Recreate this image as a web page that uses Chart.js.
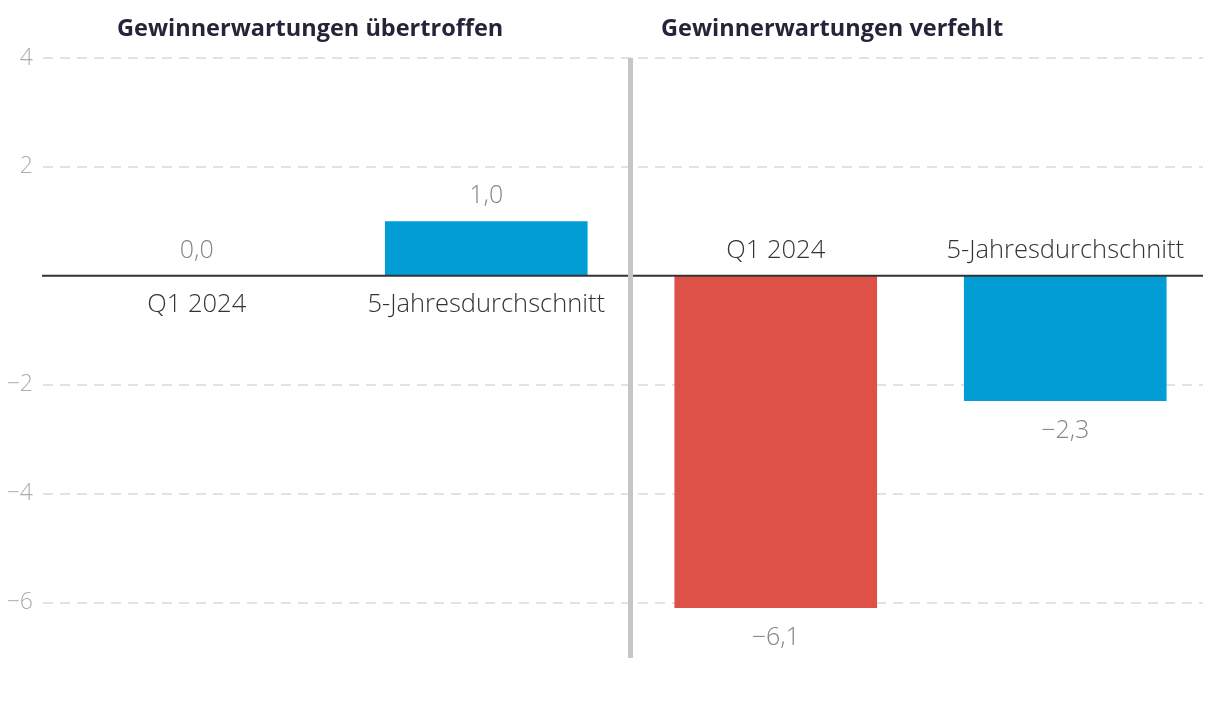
<!DOCTYPE html>
<html>
<head>
<meta charset="utf-8">
<script src="https://cdn.jsdelivr.net/npm/chart.js@4.4.1/dist/chart.umd.min.js"></script>
<style>
  html, body { margin: 0; padding: 0; background: #fff; }
  #wrap { width: 1220px; height: 714px; }
</style>
</head>
<body>
<div id="wrap"><canvas id="myChart" width="1220" height="714"></canvas></div>
<script>
// data
const categories = ['Q1 2024', '5-Jahresdurchschnitt', 'Q1 2024', '5-Jahresdurchschnitt']
const values = [0.0, 1.0, -6.1, -2.3]
const barColors = ['#DE5147', '#019DD4', '#DE5147', '#019DD4']
const groupTitles = ['Gewinnerwartungen übertroffen', 'Gewinnerwartungen verfehlt']
const yTicks = [4, 2, -2, -4, -6]

const FONT = '"Open Sans", "Noto Sans", sans-serif'

function fmt(v) {
  let s = Math.abs(v).toFixed(1).replace('.', ',')
  return v < 0 ? '\u2212' + s : s
}

// grid, zero line, separator, titles, labels
const decorPlugin = {
  id: 'decor',
  beforeDatasetsDraw(chart) {
    const ctx = chart.ctx
    const y = chart.scales.y
    const area = chart.chartArea
    ctx.save()
    ctx.strokeStyle = '#e2e2e2'
    ctx.lineWidth = 2
    ctx.setLineDash([10, 7])
    yTicks.forEach(t => {
      const py = Math.round(y.getPixelForValue(t))
      ctx.beginPath()
      ctx.moveTo(43, py)
      ctx.lineTo(area.right - 7, py)
      ctx.stroke()
    })
    ctx.restore()
  },
  afterDatasetsDraw(chart) {
    const ctx = chart.ctx
    const x = chart.scales.x
    const y = chart.scales.y
    const area = chart.chartArea
    const meta = chart.getDatasetMeta(0)
    const y0 = y.getPixelForValue(0)

    ctx.save()
    // zero line
    ctx.strokeStyle = '#333333'
    ctx.lineWidth = 2
    ctx.beginPath()
    ctx.moveTo(42, y0)
    ctx.lineTo(area.right - 7, y0)
    ctx.stroke()

    // separator
    const sep = (x.getPixelForValue(1) + x.getPixelForValue(2)) / 2
    ctx.fillStyle = '#c6c6c6'
    ctx.fillRect(sep - 3, area.top, 5, area.bottom - area.top + 1)

    // titles
    ctx.fillStyle = '#25253a'
    ctx.font = 'bold 23.5px ' + FONT
    ctx.textBaseline = 'middle'
    ctx.textAlign = 'left'
    ctx.fillText(groupTitles[0], area.left + 65, 29)
    ctx.fillText(groupTitles[1], sep + 30, 29)

    // bar labels
    ctx.textAlign = 'center'
    meta.data.forEach((bar, i) => {
      const v = values[i]
      const cx = bar.x
      ctx.font = '300 25px ' + FONT
      ctx.fillStyle = '#858585'
      if (v >= 0) {
        ctx.fillText(fmt(v), cx, bar.y - 25)
        ctx.font = '300 25.5px ' + FONT
        ctx.fillStyle = '#333333'
        ctx.fillText(categories[i], cx, y0 + 29)
      } else {
        ctx.fillText(fmt(v), cx, bar.y + 30)
        ctx.font = '300 25.5px ' + FONT
        ctx.fillStyle = '#333333'
        ctx.fillText(categories[i], cx, y0 - 25)
      }
    })
    ctx.restore()
  }
}

let chart = new Chart(document.getElementById('myChart').getContext('2d'), {
  type: 'bar',
  data: {
    labels: categories,
    datasets: [
      {
        data: values,
        backgroundColor: barColors,
        barPercentage: 0.7,
        categoryPercentage: 1.0,
      },
    ],
  },
  options: {
    responsive: false,
    animation: false,
    layout: {
      padding: { top: 58, right: 10, bottom: 57, left: 0 },
    },
    plugins: {
      legend: { display: false },
      tooltip: { enabled: false },
    },
    scales: {
      x: {
        display: false,
      },
      y: {
        min: -7,
        max: 4,
        grid: { display: false, drawTicks: false },
        border: { display: false },
        ticks: {
          stepSize: 2,
          padding: 19,
          color: '#adadad',
          font: { family: FONT, size: 23, weight: '300' },
          callback: v => (yTicks.includes(v) ? (v < 0 ? '\u2212' + Math.abs(v) : String(v)) : ''),
        },
        afterFit: scale => {
          scale.width = 52
        },
      },
    },
  },
  plugins: [decorPlugin],
})
</script>
</body>
</html>
